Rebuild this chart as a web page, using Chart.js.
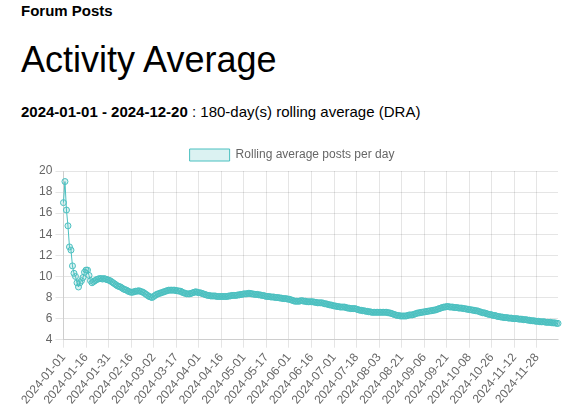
<!DOCTYPE html>
<html>
<head>
<meta charset="utf-8">
<title>Forum Posts - Activity Average</title>
<script src="https://cdn.jsdelivr.net/npm/chart.js@4"></script>
<style>
  body {
    margin: 0;
    padding: 0 21px;
    font-family: Arial, Helvetica, "Liberation Sans", sans-serif;
    color: #000;
  }
  .section-title {
    font-size: 15px;
    font-weight: bold;
    margin: 2px 0 0 0;
  }
  h1 {
    font-size: 36px;
    font-weight: normal;
    margin: 20px 0 0 0;
  }
  .range {
    font-size: 15px;
    margin: 22px 0 0 0;
  }
  .chart-wrap {
    width: 542px;
    height: 271px;
    margin-top: 19px;
  }
</style>
</head>
<body>
<div class="section-title">Forum Posts</div>
<h1>Activity Average</h1>
<p class="range"><b>2024-01-01 - 2024-12-20</b> : 180-day(s) rolling average (DRA)</p>
<div class="chart-wrap"><canvas id="activity-chart"></canvas></div>

<script>
// days with no entry in the export
const missingDays = [
  "2024-02-08", "2024-05-09", "2024-07-06", "2024-07-13", "2024-07-27",
  "2024-08-08", "2024-08-12", "2024-08-17", "2024-08-31", "2024-09-28",
  "2024-10-04", "2024-10-12", "2024-10-17", "2024-10-22", "2024-11-02",
  "2024-11-08", "2024-11-20", "2024-12-01", "2024-12-03", "2024-12-06",
  "2024-12-08", "2024-12-11", "2024-12-14", "2024-12-16", "2024-12-18"
];

// rolling average posts per day, one row per labelled step
const rollingAvg = [
  17.0, 19.0, 16.3, 14.8, 12.8, 12.5, 11.0, 10.3, 10.0, 9.4, 9.0, 9.4, 9.6, 9.9, 10.4,
  10.6, 10.6, 10.1, 9.6, 9.4, 9.5, 9.6, 9.7, 9.75, 9.8, 9.8, 9.75, 9.8, 9.75, 9.7,
  9.65, 9.6, 9.5, 9.4, 9.3, 9.2, 9.1, 9.05, 9.0, 8.9, 8.8, 8.75, 8.7, 8.6, 8.55,
  8.5, 8.5, 8.55, 8.6, 8.6, 8.65, 8.6, 8.55, 8.5, 8.4, 8.3, 8.2, 8.1, 8.05, 8.0,
  8.1, 8.2, 8.3, 8.35, 8.4, 8.45, 8.5, 8.55, 8.6, 8.65, 8.7, 8.7, 8.7, 8.7, 8.7,
  8.65, 8.65, 8.6, 8.6, 8.5, 8.45, 8.4, 8.35, 8.35, 8.35, 8.4, 8.45, 8.5, 8.55, 8.5,
  8.45, 8.45, 8.4, 8.35, 8.3, 8.25, 8.2, 8.2, 8.15, 8.15, 8.15, 8.15, 8.1, 8.1, 8.1,
  8.1, 8.1, 8.1, 8.1, 8.1, 8.15, 8.15, 8.2, 8.2, 8.2, 8.2, 8.25, 8.25, 8.3, 8.3,
  8.35, 8.35, 8.35, 8.4, 8.4, 8.35, 8.35, 8.3, 8.3, 8.3, 8.25, 8.25, 8.2, 8.2, 8.15,
  8.1, 8.1, 8.1, 8.05, 8.05, 8.05, 8.0, 8.0, 8.0, 7.95, 7.95, 7.9, 7.9, 7.9, 7.85,
  7.85, 7.8, 7.75, 7.7, 7.65, 7.65, 7.65, 7.65, 7.7, 7.7, 7.65, 7.65, 7.6, 7.6, 7.6,
  7.6, 7.6, 7.55, 7.55, 7.5, 7.5, 7.5, 7.5, 7.45, 7.4, 7.4, 7.35, 7.3, 7.3, 7.25,
  7.2, 7.2, 7.15, 7.15, 7.1, 7.1, 7.1, 7.1, 7.05, 7.0, 7.0, 6.95, 6.95, 6.95, 6.95,
  6.9, 6.85, 6.8, 6.8, 6.75, 6.75, 6.7, 6.7, 6.65, 6.65, 6.6, 6.6, 6.6, 6.6, 6.6,
  6.6, 6.6, 6.6, 6.6, 6.6, 6.6, 6.55, 6.55, 6.5, 6.45, 6.4, 6.35, 6.3, 6.3, 6.25,
  6.25, 6.25, 6.25, 6.25, 6.3, 6.35, 6.35, 6.35, 6.4, 6.45, 6.5, 6.55, 6.55, 6.6, 6.6,
  6.65, 6.65, 6.7, 6.7, 6.75, 6.75, 6.8, 6.8, 6.85, 6.9, 6.95, 7.0, 7.05, 7.1, 7.1,
  7.15, 7.15, 7.1, 7.1, 7.1, 7.05, 7.05, 7.05, 7.0, 7.0, 7.0, 6.95, 6.95, 6.9, 6.9,
  6.85, 6.85, 6.8, 6.8, 6.75, 6.75, 6.7, 6.65, 6.6, 6.55, 6.55, 6.5, 6.45, 6.4, 6.4,
  6.35, 6.3, 6.3, 6.25, 6.2, 6.2, 6.15, 6.15, 6.1, 6.1, 6.1, 6.05, 6.05, 6.05, 6.0,
  6.0, 6.0, 6.0, 5.95, 5.95, 5.95, 5.9, 5.9, 5.9, 5.85, 5.85, 5.8, 5.8, 5.8, 5.75,
  5.75, 5.75, 5.7, 5.7, 5.7, 5.7, 5.65, 5.65, 5.65, 5.65, 5.6, 5.6, 5.6, 5.55, 5.55
];

const yTicks = [4, 6, 8, 10, 12, 14, 16, 18, 20];
const labelEvery = 15;

// build the day labels from 2024-01-01 to 2024-12-20
function buildDays() {
  const days = [];
  const d = new Date(Date.UTC(2024, 0, 1));
  const end = new Date(Date.UTC(2024, 11, 20));
  while (d <= end) {
    const s = d.toISOString().slice(0, 10);
    if (missingDays.indexOf(s) === -1) days.push(s);
    d.setUTCDate(d.getUTCDate() + 1);
  }
  return days;
}

const days = buildDays();

document.addEventListener('DOMContentLoaded', function () {
  const ctx = document.getElementById("activity-chart").getContext("2d");
  new Chart(ctx, {
    type: "line",
    data: {
      labels: days,
      datasets: [{
        label: "Rolling average posts per day",
        data: rollingAvg,
        backgroundColor: 'rgba(75, 192, 192, 0.2)',
        borderColor: 'rgba(75, 192, 192, 1)',
        borderWidth: 1,
        pointRadius: 3,
        pointBorderWidth: 1,
        tension: 0
      }]
    },
    options: {
      responsive: true,
      maintainAspectRatio: false,
      animation: false,
      plugins: {
        legend: {
          position: 'top'
        }
      },
      scales: {
        x: {
          ticks: {
            autoSkip: false,
            maxRotation: 50,
            callback: function (value, index) {
              return index % labelEvery === 0 ? days[index] : null;
            }
          }
        },
        y: {
          min: yTicks[0],
          max: yTicks[yTicks.length - 1],
          ticks: {
            stepSize: 2
          }
        }
      }
    }
  });
});
</script>
</body>
</html>
